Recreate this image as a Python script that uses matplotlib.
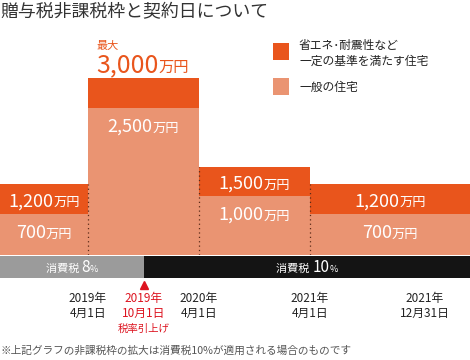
import matplotlib
matplotlib.use('Agg')
import matplotlib.pyplot as plt
from matplotlib.patches import Rectangle
import numpy as np

plt.rcParams['font.family'] = ['Noto Sans CJK JP', 'DejaVu Sans']

# period edges on the time axis
edges = [0, 88, 199, 310, 470]
general = [700, 2500, 1000, 700]      # 一般の住宅
eco = [1200, 3000, 1500, 1200]        # 省エネ・耐震性など
eco_labels = ['1,200', '3,000', '1,500', '1,200']
general_labels = ['700', '2,500', '1,000', '700']

# consumption tax periods
tax_edges = [0, 144, 470]
tax_rates = ['8', '10']

# date labels under the band
date_pos = [88, 144, 199, 310, 425]
date_years = ['2019年', '2019年', '2020年', '2021年', '2021年']
date_days = ['4月1日', '10月1日', '4月1日', '4月1日', '12月31日']

DARK = '#E9551C'
LIGHT = '#EA9472'
GRAY = '#9B9B9B'
BLACK = '#141414'
RED = '#DD1420'
TXT = '#222222'

W, H = 470, 360
fig = plt.figure(figsize=(W / 100, H / 100), dpi=100)
renderer = fig.canvas.get_renderer()


def fx(px):
    return px / W


def fy(py):
    return 1 - py / H


def pieces(axis, x, y, dy, parts, color, align='center'):
    # draw several text pieces of different size on one baseline
    texts = []
    for s, size in parts:
        t = axis.annotate(s, (x, y), xytext=(0, dy), textcoords='offset pixels',
                          ha='left', va='baseline', fontsize=size, color=color,
                          annotation_clip=False)
        texts.append(t)
    ws = [t.get_window_extent(renderer).width for t in texts]
    start = -sum(ws) / 2 if align == 'center' else 0
    for t, w in zip(texts, ws):
        t.xyann = (start, dy)
        start += w


# bars
ax = fig.add_axes([0, fy(255), 1, 255 / H])
ax.axis('off')
ax.set_xlim(0, 470)
ax.set_ylim(0, 255 / 0.059)
lefts = edges[:-1]
widths = np.diff(edges)
ax.bar(lefts, eco, widths, align='edge', color=DARK, lw=0)
ax.bar(lefts, general, widths, align='edge', color=LIGHT, lw=0)
for i in range(1, len(edges) - 1):
    ax.vlines(edges[i], 0, min(eco[i - 1], eco[i]), color='#5a2a18',
              lw=0.9, linestyles=(0, (1, 2.5)), zorder=3)

imax = int(np.argmax(eco))
for i in range(len(lefts)):
    cx = lefts[i] + widths[i] / 2
    if i == imax:
        pieces(ax, lefts[i] + 8, eco[i], 6, [(eco_labels[i], 18), ('万円', 11)],
               DARK, align='left')
        pieces(ax, lefts[i] + 8, eco[i], 29, [('最大', 8)], DARK, align='left')
    else:
        pieces(ax, cx, eco[i], -22, [(eco_labels[i], 13), ('万円', 9.5)], 'white')
    pieces(ax, cx, general[i], -24, [(general_labels[i], 13), ('万円', 9.5)], 'white')

# tax band
bx = fig.add_axes([0, fy(278), 1, 22 / H])
bx.axis('off')
bx.set_xlim(0, 470)
bx.set_ylim(-0.5, 0.5)
bx.barh(0, np.diff(tax_edges), left=tax_edges[:-1], height=1,
        color=[GRAY, BLACK], lw=0)
for i, rate in enumerate(tax_rates):
    cx = (tax_edges[i] + tax_edges[i + 1]) / 2
    pieces(bx, cx, 0, -5, [('消費税 ', 8), (rate, 11), ('%', 6.5)], 'white')

bx.plot(tax_edges[1], -0.5 - 7 / 22, marker='^', ms=5.5, color=RED,
        clip_on=False, lw=0)

for i, p in enumerate(date_pos):
    c = RED if p == tax_edges[1] else TXT
    pieces(bx, p, -0.5, -24, [(date_years[i], 8.5)], c)
    pieces(bx, p, -0.5, -39, [(date_days[i], 8.5)], c)
    if p == tax_edges[1]:
        pieces(bx, p, -0.5, -54, [('税率引上げ', 7.5)], c)

# title, legend, note
fig.text(fx(0), fy(12), '贈与税非課税枠と契約日について', fontsize=12.9,
         color='#333333', va='center', ha='left')

fig.add_artist(Rectangle((fx(273), fy(60)), 16 / W, 17 / H,
                         transform=fig.transFigure, color=DARK, lw=0))
fig.add_artist(Rectangle((fx(273), fy(95)), 16 / W, 17 / H,
                         transform=fig.transFigure, color=LIGHT, lw=0))
fig.text(fx(299), fy(46), '省エネ･耐震性など', fontsize=8.5, color=TXT, va='center')
fig.text(fx(299), fy(61), '一定の基準を満たす住宅', fontsize=8.5, color=TXT, va='center')
fig.text(fx(299), fy(87), '一般の住宅', fontsize=8.5, color=TXT, va='center')

fig.text(fx(0), fy(351), '※上記グラフの非課税枠の拡大は消費税10%が適用される場合のものです',
         fontsize=7.7, color='#555555', va='center')

fig.savefig('out.png', dpi=100)
